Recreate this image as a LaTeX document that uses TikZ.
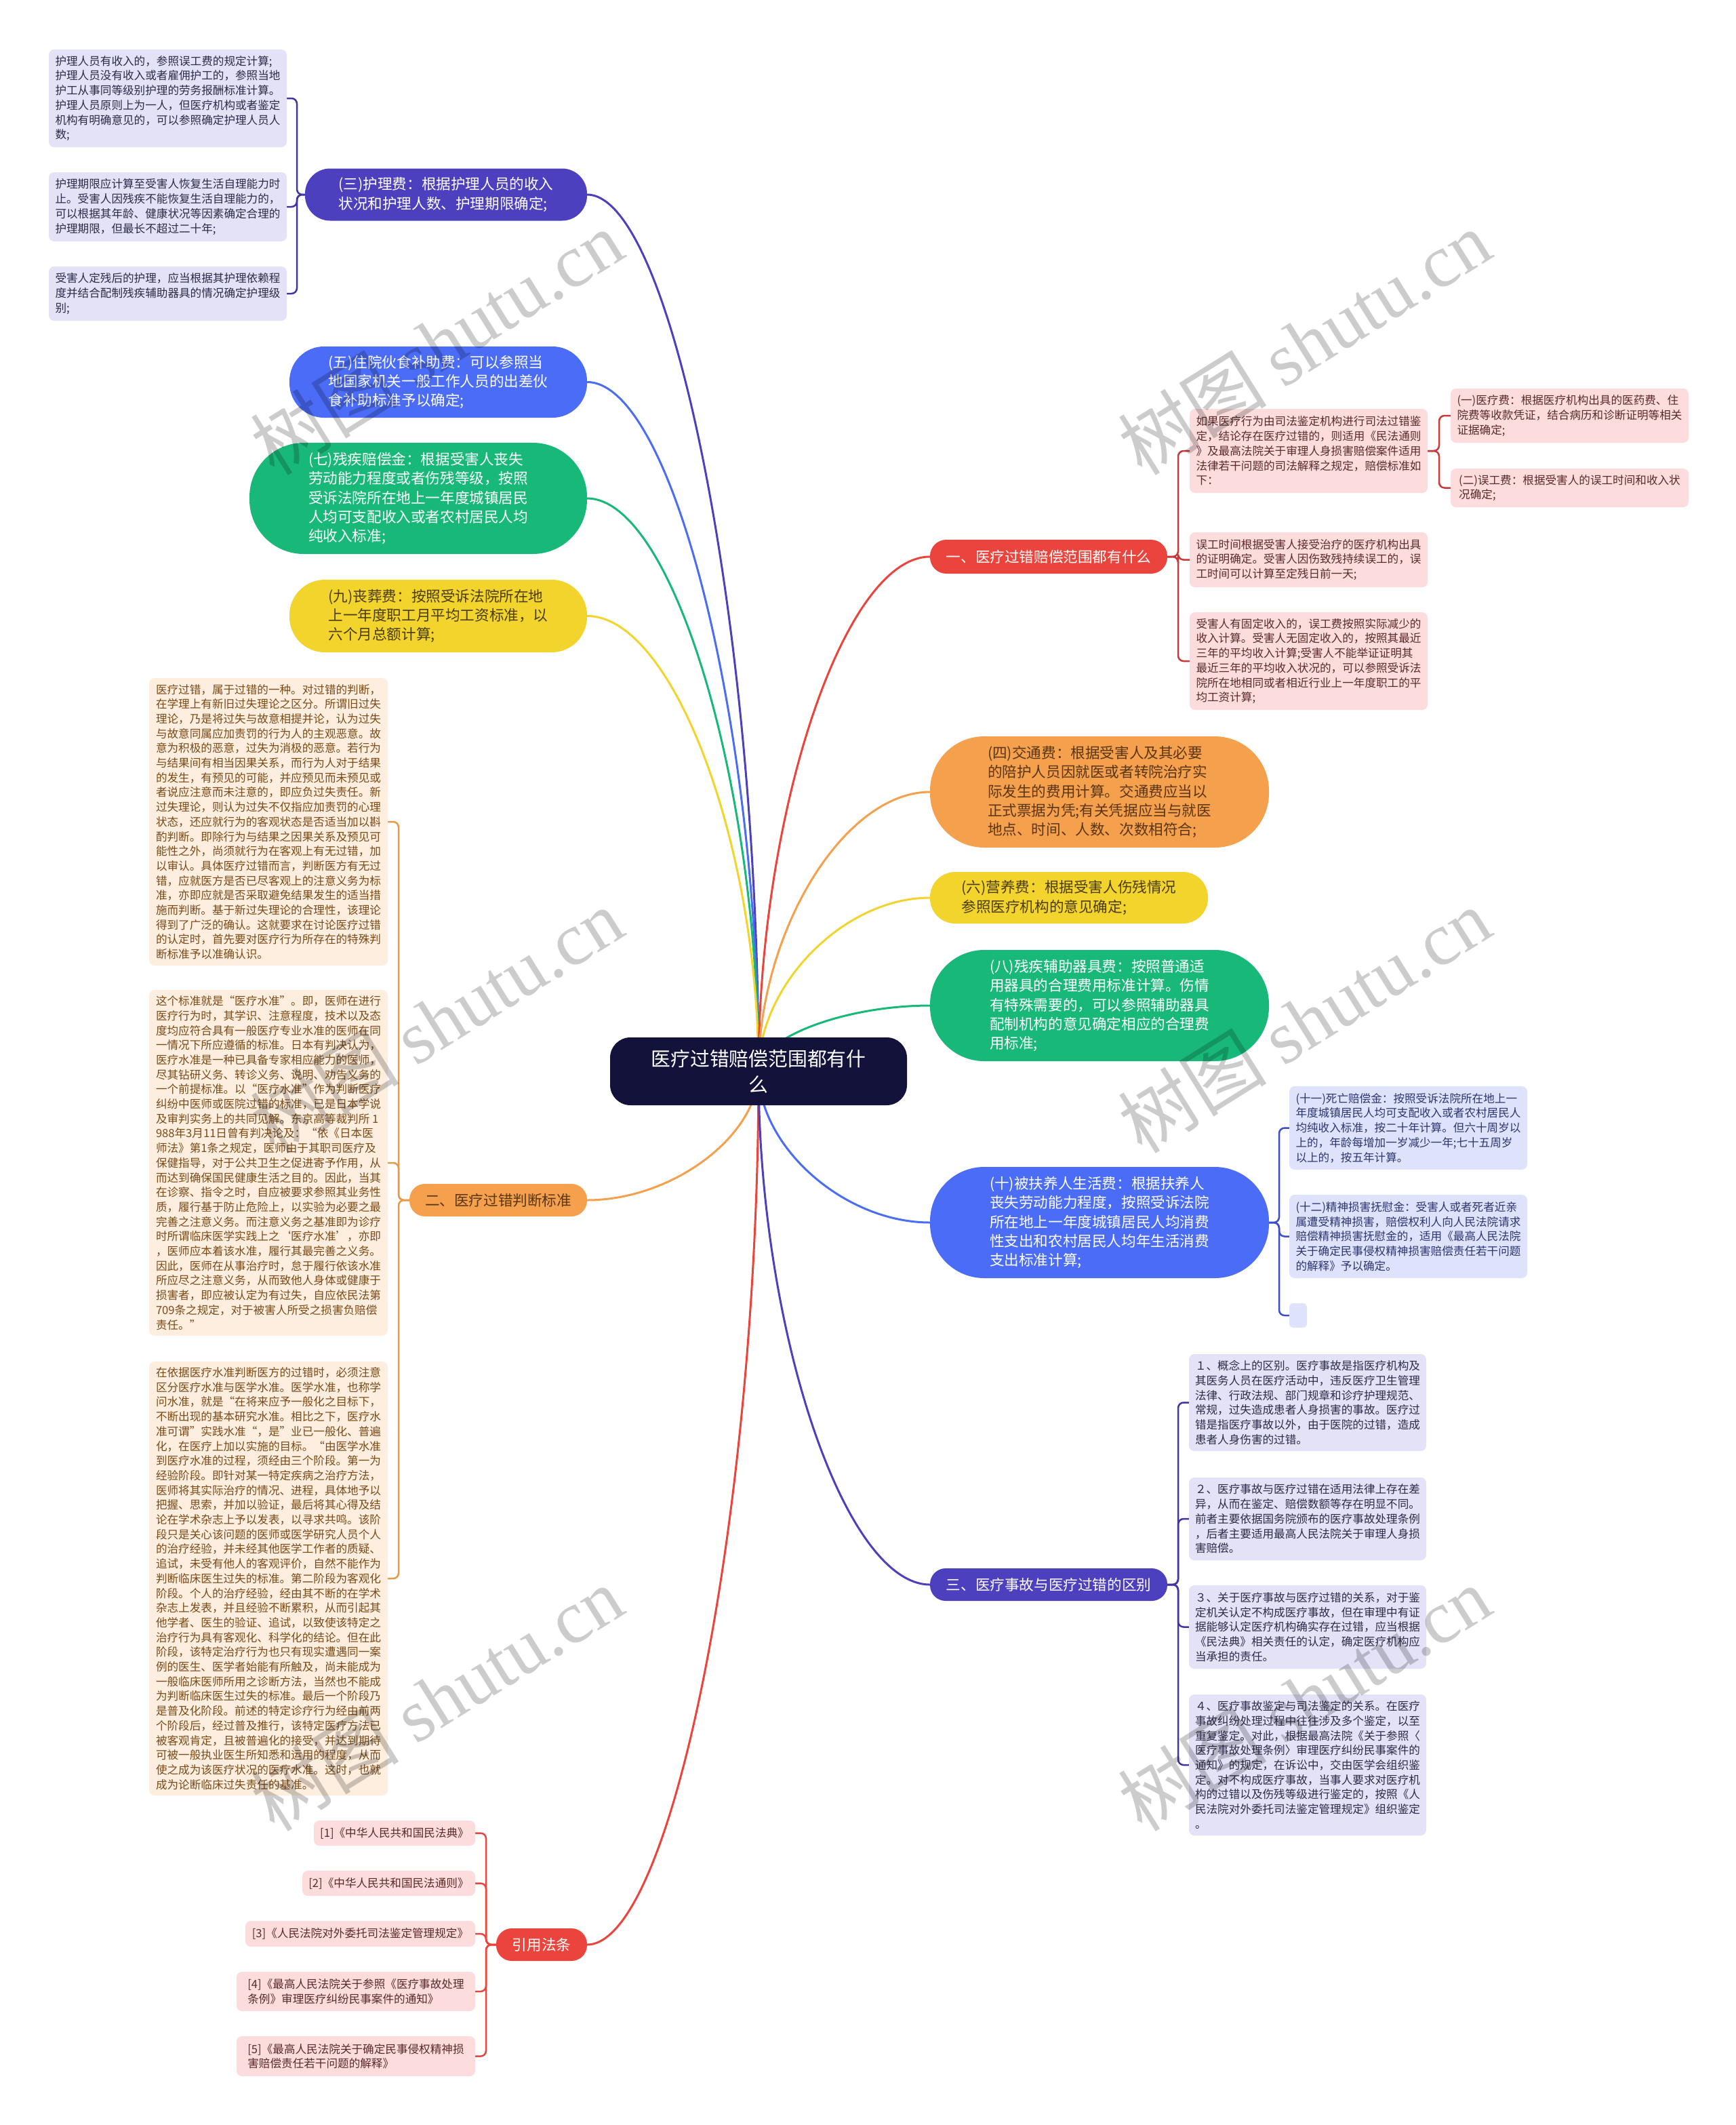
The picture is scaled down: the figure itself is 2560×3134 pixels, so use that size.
\documentclass[tikz,border=0pt]{standalone}
\usepackage{fontspec}
\setmainfont{Noto Sans CJK SC}
\newfontfamily\wmlat{Liberation Serif}
\usetikzlibrary{backgrounds}
\definecolor{cRoot}{HTML}{12123A}
\definecolor{cIndigo}{HTML}{4C40BE}
\definecolor{cBlue}{HTML}{4A6CF6}
\definecolor{cGreen}{HTML}{18B978}
\definecolor{cYellow}{HTML}{F2D42C}
\definecolor{cOrange}{HTML}{F4A04C}
\definecolor{cRed}{HTML}{EB443C}
\definecolor{cLav}{HTML}{E3E2F6}
\definecolor{cLB}{HTML}{DEE3FB}
\definecolor{cPink}{HTML}{FCDCDC}
\definecolor{cPeach}{HTML}{FDEEDF}
\definecolor{tLav}{HTML}{2B2B4A}
\definecolor{tLB}{HTML}{2B3570}
\definecolor{tPink}{HTML}{5A2A2A}
\definecolor{tPeach}{HTML}{7A4A16}
\definecolor{tYellow}{HTML}{4A3C12}
\definecolor{tOrange}{HTML}{5A3516}
\definecolor{lRed}{HTML}{C83A3A}
\definecolor{lOrange}{HTML}{E69A48}
\definecolor{lBlue}{HTML}{3C4EC8}
\definecolor{lIndigo}{HTML}{3F34A8}
\tikzset{
  every node/.style={inner sep=0pt, outer sep=0pt},
  leaf/.style={rectangle, rounded corners=8pt, align=left, font=\fontsize{16.6pt}{21.7pt}\selectfont, inner xsep=9pt, inner ysep=6pt},
  pill/.style={rectangle, align=left, font=\fontsize{21.6pt}{28.3pt}\selectfont},
  conn/.style={line width=3pt},
  brk/.style={line width=2.5pt, rounded corners=8pt},
  wm/.style={rotate=32, text=black, text opacity=0.2, font=\fontsize{110pt}{110pt}\selectfont}
}
\begin{document}
\begin{tikzpicture}[x=1pt,y=-1pt]
\useasboundingbox (0,0) rectangle (2560,3134);

% root
\node[pill, fill=cRoot, text=white, font=\fontsize{28.8pt}{38pt}\selectfont, align=center, minimum width=438pt, minimum height=100pt, rounded corners=30pt] (root) at (1119,1580) {医疗过错赔偿范围都有什\\么};

% left main nodes
\node[pill, fill=cIndigo, text=white, minimum width=416pt, minimum height=77pt, rounded corners=37pt] (n3) at (658,287) {(三)护理费：根据护理人员的收入\\状况和护理人数、护理期限确定;};
\node[pill, fill=cBlue, text=white, minimum width=439pt, minimum height=105pt, rounded corners=51pt] (n5) at (646.5,563.5) {(五)住院伙食补助费：可以参照当\\地国家机关一般工作人员的出差伙\\食补助标准予以确定;};
\node[pill, fill=cGreen, text=white, minimum width=498pt, minimum height=164pt, rounded corners=80pt] (n7) at (617,735) {(七)残疾赔偿金：根据受害人丧失\\劳动能力程度或者伤残等级，按照\\受诉法院所在地上一年度城镇居民\\人均可支配收入或者农村居民人均\\纯收入标准;};
\node[pill, fill=cYellow, text=tYellow, minimum width=439pt, minimum height=107pt, rounded corners=52pt] (n9) at (646.5,908.5) {(九)丧葬费：按照受诉法院所在地\\上一年度职工月平均工资标准，以\\六个月总额计算;};
\node[pill, fill=cOrange, text=tOrange, minimum width=262pt, minimum height=48pt, rounded corners=23pt] (n2) at (735,1770) {二、医疗过错判断标准};
\node[pill, fill=cRed, text=white, minimum width=134pt, minimum height=48pt, rounded corners=23pt] (nR) at (799,2868) {引用法条};

% right main nodes
\node[pill, fill=cRed, text=white, minimum width=350pt, minimum height=50pt, rounded corners=24pt] (n1) at (1547,821) {一、医疗过错赔偿范围都有什么};
\node[pill, fill=cOrange, text=tOrange, minimum width=500pt, minimum height=164pt, rounded corners=80pt] (n4) at (1622,1168) {(四)交通费：根据受害人及其必要\\的陪护人员因就医或者转院治疗实\\际发生的费用计算。交通费应当以\\正式票据为凭;有关凭据应当与就医\\地点、时间、人数、次数相符合;};
\node[pill, fill=cYellow, text=tYellow, minimum width=410pt, minimum height=76pt, rounded corners=37pt] (n6) at (1577,1324) {(六)营养费：根据受害人伤残情况\\参照医疗机构的意见确定;};
\node[pill, fill=cGreen, text=white, minimum width=500pt, minimum height=164pt, rounded corners=80pt] (n8) at (1622,1483) {(八)残疾辅助器具费：按照普通适\\用器具的合理费用标准计算。伤情\\有特殊需要的，可以参照辅助器具\\配制机构的意见确定相应的合理费\\用标准;};
\node[pill, fill=cBlue, text=white, minimum width=500pt, minimum height=164pt, rounded corners=80pt] (n10) at (1622,1803) {(十)被扶养人生活费：根据扶养人\\丧失劳动能力程度，按照受诉法院\\所在地上一年度城镇居民人均消费\\性支出和农村居民人均年生活消费\\支出标准计算;};
\node[pill, fill=cIndigo, text=white, minimum width=350pt, minimum height=48pt, rounded corners=23pt] (nS) at (1547,2337) {三、医疗事故与医疗过错的区别};

% leaves of (三)
\node[leaf, fill=cLav, text=tLav, minimum width=351pt, minimum height=144pt, anchor=east] (a1) at (423,145) {护理人员有收入的，参照误工费的规定计算;\\护理人员没有收入或者雇佣护工的，参照当地\\护工从事同等级别护理的劳务报酬标准计算。\\护理人员原则上为一人，但医疗机构或者鉴定\\机构有明确意见的，可以参照确定护理人员人\\数;};
\node[leaf, fill=cLav, text=tLav, minimum width=351pt, minimum height=102pt, anchor=east] (a2) at (423,305) {护理期限应计算至受害人恢复生活自理能力时\\止。受害人因残疾不能恢复生活自理能力的，\\可以根据其年龄、健康状况等因素确定合理的\\护理期限，但最长不超过二十年;};
\node[leaf, fill=cLav, text=tLav, minimum width=351pt, minimum height=80pt, anchor=east] (a3) at (423,433) {受害人定残后的护理，应当根据其护理依赖程\\度并结合配制残疾辅助器具的情况确定护理级\\别;};

% leaves of 二
\node[leaf, fill=cPeach, text=tPeach, minimum width=352pt, minimum height=424pt, anchor=east] (e1) at (572,1212) {医疗过错，属于过错的一种。对过错的判断，\\在学理上有新旧过失理论之区分。所谓旧过失\\理论，乃是将过失与故意相提并论，认为过失\\与故意同属应加责罚的行为人的主观恶意。故\\意为积极的恶意，过失为消极的恶意。若行为\\与结果间有相当因果关系，而行为人对于结果\\的发生，有预见的可能，并应预见而未预见或\\者说应注意而未注意的，即应负过失责任。新\\过失理论，则认为过失不仅指应加责罚的心理\\状态，还应就行为的客观状态是否适当加以斟\\酌判断。即除行为与结果之因果关系及预见可\\能性之外，尚须就行为在客观上有无过错，加\\以审认。具体医疗过错而言，判断医方有无过\\错，应就医方是否已尽客观上的注意义务为标\\准，亦即应就是否采取避免结果发生的适当措\\施而判断。基于新过失理论的合理性，该理论\\得到了广泛的确认。这就要求在讨论医疗过错\\的认定时，首先要对医疗行为所存在的特殊判\\断标准予以准确认识。};
\node[leaf, fill=cPeach, text=tPeach, minimum width=352pt, minimum height=510pt, anchor=east] (e2) at (572,1715) {这个标准就是“医疗水准”。即，医师在进行\\医疗行为时，其学识、注意程度，技术以及态\\度均应符合具有一般医疗专业水准的医师在同\\一情况下所应遵循的标准。日本有判决认为，\\医疗水准是一种已具备专家相应能力的医师，\\尽其钻研义务、转诊义务、说明、劝告义务的\\一个前提标准。以“医疗水准”作为判断医疗\\纠纷中医师或医院过错的标准，已是日本学说\\及审判实务上的共同见解。东京高等裁判所 1\\988年3月11日曾有判决论及：“依《日本医\\师法》第1条之规定，医师由于其职司医疗及\\保健指导，对于公共卫生之促进寄予作用，从\\而达到确保国民健康生活之目的。因此，当其\\在诊察、指令之时，自应被要求参照其业务性\\质，履行基于防止危险上，以实验为必要之最\\完善之注意义务。而注意义务之基准即为诊疗\\时所谓临床医学实践上之‘医疗水准’，亦即\\，医师应本着该水准，履行其最完善之义务。\\因此，医师在从事治疗时，怠于履行依该水准\\所应尽之注意义务，从而致他人身体或健康于\\损害者，即应被认定为有过失，自应依民法第\\709条之规定，对于被害人所受之损害负赔偿\\责任。”};
\node[leaf, fill=cPeach, text=tPeach, minimum width=352pt, minimum height=640pt, anchor=east] (e3) at (572,2328) {在依据医疗水准判断医方的过错时，必须注意\\区分医疗水准与医学水准。医学水准，也称学\\问水准，就是“在将来应予一般化之目标下，\\不断出现的基本研究水准。相比之下，医疗水\\准可谓”实践水准“，是”业已一般化、普遍\\化，在医疗上加以实施的目标。“由医学水准\\到医疗水准的过程，须经由三个阶段。第一为\\经验阶段。即针对某一特定疾病之治疗方法，\\医师将其实际治疗的情况、进程，具体地予以\\把握、思索，并加以验证，最后将其心得及结\\论在学术杂志上予以发表，以寻求共鸣。该阶\\段只是关心该问题的医师或医学研究人员个人\\的治疗经验，并未经其他医学工作者的质疑、\\追试，未受有他人的客观评价，自然不能作为\\判断临床医生过失的标准。第二阶段为客观化\\阶段。个人的治疗经验，经由其不断的在学术\\杂志上发表，并且经验不断累积，从而引起其\\他学者、医生的验证、追试，以致使该特定之\\治疗行为具有客观化、科学化的结论。但在此\\阶段，该特定治疗行为也只有现实遭遇同一案\\例的医生、医学者始能有所触及，尚未能成为\\一般临床医师所用之诊断方法，当然也不能成\\为判断临床医生过失的标准。最后一个阶段乃\\是普及化阶段。前述的特定诊疗行为经由前两\\个阶段后，经过普及推行，该特定医疗方法已\\被客观肯定，且被普遍化的接受，并达到期待\\可被一般执业医生所知悉和运用的程度，从而\\使之成为该医疗状况的医疗水准。这时，也就\\成为论断临床过失责任的基准。};

% references
\node[leaf, fill=cPink, text=tPink, minimum width=238pt, minimum height=37pt, anchor=east] (f1) at (701,2703.5) {[1]《中华人民共和国民法典》};
\node[leaf, fill=cPink, text=tPink, minimum width=255pt, minimum height=37pt, anchor=east] (f2) at (701,2777.5) {[2]《中华人民共和国民法通则》};
\node[leaf, fill=cPink, text=tPink, minimum width=339pt, minimum height=38pt, anchor=east] (f3) at (701,2852) {[3]《人民法院对外委托司法鉴定管理规定》};
\node[leaf, fill=cPink, text=tPink, minimum width=352pt, minimum height=58pt, anchor=east] (f4) at (701,2937) {[4]《最高人民法院关于参照《医疗事故处理\\条例》审理医疗纠纷民事案件的通知》};
\node[leaf, fill=cPink, text=tPink, minimum width=352pt, minimum height=59pt, anchor=east] (f5) at (701,3032.5) {[5]《最高人民法院关于确定民事侵权精神损\\害赔偿责任若干问题的解释》};

% leaves of 一
\node[leaf, fill=cPink, text=tPink, minimum width=351pt, minimum height=124pt, anchor=west] (r1) at (1755,665) {如果医疗行为由司法鉴定机构进行司法过错鉴\\定，结论存在医疗过错的，则适用《民法通则\\》及最高法院关于审理人身损害赔偿案件适用\\法律若干问题的司法解释之规定，赔偿标准如\\下：};
\node[leaf, fill=cPink, text=tPink, minimum width=351pt, minimum height=81pt, anchor=west] (r2) at (1755,825.5) {误工时间根据受害人接受治疗的医疗机构出具\\的证明确定。受害人因伤致残持续误工的，误\\工时间可以计算至定残日前一天;};
\node[leaf, fill=cPink, text=tPink, minimum width=351pt, minimum height=144pt, anchor=west] (r3) at (1755,975) {受害人有固定收入的，误工费按照实际减少的\\收入计算。受害人无固定收入的，按照其最近\\三年的平均收入计算;受害人不能举证证明其\\最近三年的平均收入状况的，可以参照受诉法\\院所在地相同或者相近行业上一年度职工的平\\均工资计算;};
\node[leaf, fill=cPink, text=tPink, minimum width=351pt, minimum height=80pt, anchor=west] (k1) at (2140,613) {(一)医疗费：根据医疗机构出具的医药费、住\\院费等收款凭证，结合病历和诊断证明等相关\\证据确定;};
\node[leaf, fill=cPink, text=tPink, minimum width=351pt, minimum height=57pt, anchor=west] (k2) at (2140,719.5) {(二)误工费：根据受害人的误工时间和收入状\\况确定;};

% leaves of (十)
\node[leaf, fill=cLB, text=tLB, minimum width=351pt, minimum height=123pt, anchor=west] (t1) at (1902,1663.5) {(十一)死亡赔偿金：按照受诉法院所在地上一\\年度城镇居民人均可支配收入或者农村居民人\\均纯收入标准，按二十年计算。但六十周岁以\\上的，年龄每增加一岁减少一年;七十五周岁\\以上的，按五年计算。};
\node[leaf, fill=cLB, text=tLB, minimum width=351pt, minimum height=123pt, anchor=west] (t2) at (1902,1823.5) {(十二)精神损害抚慰金：受害人或者死者近亲\\属遭受精神损害，赔偿权利人向人民法院请求\\赔偿精神损害抚慰金的，适用《最高人民法院\\关于确定民事侵权精神损害赔偿责任若干问题\\的解释》予以确定。};
\node[leaf, fill=cLB, minimum width=26pt, minimum height=36pt, rounded corners=6pt, anchor=west] (t3) at (1902,1940) {};

% leaves of 三
\node[leaf, fill=cLav, text=tLav, minimum width=350pt, minimum height=143pt, anchor=west] (s1) at (1754,2068.5) {１、概念上的区别。医疗事故是指医疗机构及\\其医务人员在医疗活动中，违反医疗卫生管理\\法律、行政法规、部门规章和诊疗护理规范、\\常规，过失造成患者人身损害的事故。医疗过\\错是指医疗事故以外，由于医院的过错，造成\\患者人身伤害的过错。};
\node[leaf, fill=cLav, text=tLav, minimum width=350pt, minimum height=122pt, anchor=west] (s2) at (1754,2240) {２、医疗事故与医疗过错在适用法律上存在差\\异，从而在鉴定、赔偿数额等存在明显不同。\\前者主要依据国务院颁布的医疗事故处理条例\\，后者主要适用最高人民法院关于审理人身损\\害赔偿。};
\node[leaf, fill=cLav, text=tLav, minimum width=350pt, minimum height=123pt, anchor=west] (s3) at (1754,2399.5) {３、关于医疗事故与医疗过错的关系，对于鉴\\定机关认定不构成医疗事故，但在审理中有证\\据能够认定医疗机构确实存在过错，应当根据\\《民法典》相关责任的认定，确定医疗机构应\\当承担的责任。};
\node[leaf, fill=cLav, text=tLav, minimum width=350pt, minimum height=208pt, anchor=west] (s4) at (1754,2603) {４、医疗事故鉴定与司法鉴定的关系。在医疗\\事故纠纷处理过程中往往涉及多个鉴定，以至\\重复鉴定。对此，根据最高法院《关于参照〈\\医疗事故处理条例〉审理医疗纠纷民事案件的\\通知》的规定，在诉讼中，交由医学会组织鉴\\定。对不构成医疗事故，当事人要求对医疗机\\构的过错以及伤残等级进行鉴定的，按照《人\\民法院对外委托司法鉴定管理规定》组织鉴定\\。};

% bracket points
\coordinate (ba) at (438,287);
\coordinate (be) at (588,1770);
\coordinate (bf) at (717,2868);
\coordinate (br) at (1738,821);
\coordinate (bk) at (2123,665);
\coordinate (bt) at (1887,1803);
\coordinate (bs) at (1738,2337);

\begin{scope}[on background layer]
\fill[white] (0,0) rectangle (2560,3134);
% root connectors
\draw[conn, cIndigo] (n3.east) .. controls (992,287) and (1119,933) .. (root.center);
\draw[conn, cBlue] (n5.east) .. controls (992,563) and (1119,1071) .. (root.center);
\draw[conn, cGreen] (n7.east) .. controls (992,735) and (1119,1157) .. (root.center);
\draw[conn, cYellow] (n9.east) .. controls (992,908) and (1119,1244) .. (root.center);
\draw[conn, cOrange] (n2.east) .. controls (992,1770) and (1119,1675) .. (root.center);
\draw[conn, cRed] (nR.east) .. controls (992,2868) and (1119,2224) .. (root.center);
\draw[conn, cRed] (n1.west) .. controls (1245,821) and (1119,1200) .. (root.center);
\draw[conn, cOrange] (n4.west) .. controls (1245,1168) and (1119,1374) .. (root.center);
\draw[conn, cYellow] (n6.west) .. controls (1245,1324) and (1119,1452) .. (root.center);
\draw[conn, cGreen] (n8.west) .. controls (1245,1483) and (1119,1531) .. (root.center);
\draw[conn, cBlue] (n10.west) .. controls (1245,1803) and (1119,1691) .. (root.center);
\draw[conn, cIndigo] (nS.west) .. controls (1245,2337) and (1119,1958) .. (root.center);
% brackets
\foreach \c in {a1,a2,a3} \draw[brk, lIndigo] (n3.west) -- (ba) |- (\c.east);
\foreach \c in {e1,e2,e3} \draw[brk, lOrange] (n2.west) -- (be) |- (\c.east);
\foreach \c in {f1,f2,f3,f4,f5} \draw[brk, cRed] (nR.west) -- (bf) |- (\c.east);
\foreach \c in {r1,r2,r3} \draw[brk, lRed] (n1.east) -- (br) |- (\c.west);
\foreach \c in {k1,k2} \draw[brk, lRed] (r1.east) -- (bk) |- (\c.west);
\foreach \c in {t1,t2,t3} \draw[brk, lBlue] (n10.east) -- (bt) |- (\c.west);
\foreach \c in {s1,s2,s3,s4} \draw[brk, lIndigo] (nS.east) -- (bs) |- (\c.west);
\end{scope}

% watermarks
\node[wm] (w1) at (644,505) {树图 {\wmlat shutu.cn}};
\node[wm] (w2) at (1924,505) {树图 {\wmlat shutu.cn}};
\node[wm] (w3) at (644,1505) {树图 {\wmlat shutu.cn}};
\node[wm] (w4) at (1924,1505) {树图 {\wmlat shutu.cn}};
\node[wm] (w5) at (644,2505) {树图 {\wmlat shutu.cn}};
\node[wm] (w6) at (1924,2505) {树图 {\wmlat shutu.cn}};
\end{tikzpicture}
\end{document}
